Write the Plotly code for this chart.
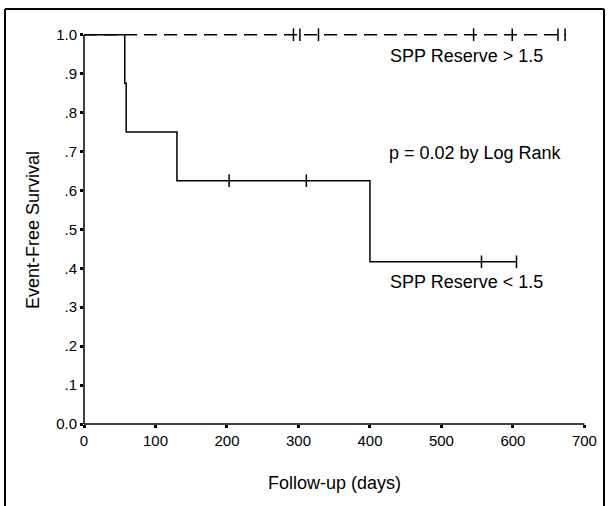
import plotly.graph_objects as go

# Group SPP Reserve < 1.5 (solid)
low_times = [0, 57, 59, 130, 400, 605]
low_surv = [1.0, 0.875, 0.75, 0.625, 0.4167, 0.4167]
low_cens_t = [203, 311, 556, 605]
low_cens_s = [0.625, 0.625, 0.4167, 0.4167]

# Group SPP Reserve > 1.5 (dashed)
high_times = [0, 673]
high_surv = [1.0, 1.0]
high_cens_t = [293, 302, 328, 545, 599, 663, 673]
high_cens_s = [1.0, 1.0, 1.0, 1.0, 1.0, 1.0, 1.0]

x_ticks = [0, 100, 200, 300, 400, 500, 600, 700]
y_ticks = [0.0, 0.1, 0.2, 0.3, 0.4, 0.5, 0.6, 0.7, 0.8, 0.9, 1.0]
y_ticktext = ["0.0", ".1", ".2", ".3", ".4", ".5", ".6", ".7", ".8", ".9", "1.0"]

FONT = "Liberation Sans, Arial, sans-serif"
XMAX = 712
YMAX = 1.03

fig = go.Figure()
fig.add_trace(go.Scatter(x=high_times, y=high_surv, mode="lines", line_shape="hv",
                         line=dict(color="black", width=1.5, dash="13px,7px"),
                         showlegend=False, hoverinfo="skip"))
fig.add_trace(go.Scatter(x=low_times, y=low_surv, mode="lines", line_shape="hv",
                         line=dict(color="black", width=1.5),
                         showlegend=False, hoverinfo="skip"))
fig.add_trace(go.Scatter(x=high_cens_t, y=high_cens_s, mode="markers", cliponaxis=False,
                         marker=dict(symbol="line-ns-open", size=9, color="black",
                                     line=dict(color="black", width=1.5)),
                         showlegend=False, hoverinfo="skip"))
fig.add_trace(go.Scatter(x=low_cens_t, y=low_cens_s, mode="markers", cliponaxis=False,
                         marker=dict(symbol="line-ns-open", size=9, color="black",
                                     line=dict(color="black", width=1.5)),
                         showlegend=False, hoverinfo="skip"))

L, R, T, B = 84, 15, 23, 82
W, H = 608, 506
pw = W - L - R
ph = H - T - B

def px2paper_x(px):
    return (px - L) / pw

def px2paper_y(py):
    return (H - B - py) / ph

fig.update_layout(
    width=W, height=H,
    margin=dict(l=L, r=R, t=T, b=B, pad=0),
    paper_bgcolor="white", plot_bgcolor="white",
    font=dict(family=FONT, color="black"),
    xaxis=dict(range=[0, XMAX], tickvals=x_ticks, ticktext=[str(v) for v in x_ticks],
               showgrid=False, zeroline=False, showline=False,
               ticks="outside", ticklen=3, tickwidth=3, tickcolor="black",
               tickfont=dict(size=15, family=FONT)),
    yaxis=dict(range=[0, YMAX], tickvals=y_ticks, ticktext=y_ticktext,
               showgrid=False, zeroline=False, showline=False,
               ticks="outside", ticklen=3, tickwidth=3, tickcolor="black",
               tickfont=dict(size=15, family=FONT)),
    shapes=[
        # axis lines
        dict(type="line", xref="paper", yref="paper", x0=0, x1=700 / XMAX, y0=0, y1=0,
             line=dict(color="black", width=1.5)),
        dict(type="line", xref="paper", yref="paper", x0=0, x1=0, y0=0, y1=1.0 / YMAX,
             line=dict(color="black", width=1.5)),
        # outer frame
        dict(type="line", xref="paper", yref="paper",
             x0=px2paper_x(5), x1=px2paper_x(5), y0=px2paper_y(9), y1=px2paper_y(520),
             line=dict(color="black", width=2)),
        dict(type="line", xref="paper", yref="paper",
             x0=px2paper_x(604), x1=px2paper_x(604), y0=px2paper_y(9), y1=px2paper_y(520),
             line=dict(color="black", width=2)),
        dict(type="line", xref="paper", yref="paper",
             x0=px2paper_x(5), x1=px2paper_x(604), y0=px2paper_y(9), y1=px2paper_y(9),
             line=dict(color="black", width=2)),
    ],
    annotations=[
        dict(text="SPP Reserve > 1.5", x=425, y=0.945, xref="x", yref="y",
             xanchor="left", yanchor="middle", showarrow=False, font=dict(size=18)),
        dict(text="p = 0.02 by Log Rank", x=424, y=0.696, xref="x", yref="y",
             xanchor="left", yanchor="middle", showarrow=False, font=dict(size=18)),
        dict(text="SPP Reserve < 1.5", x=425, y=0.365, xref="x", yref="y",
             xanchor="left", yanchor="middle", showarrow=False, font=dict(size=18)),
        dict(text="Follow-up (days)", x=px2paper_x(334), y=px2paper_y(483),
             xref="paper", yref="paper", xanchor="center", yanchor="middle",
             showarrow=False, font=dict(size=18)),
        dict(text="Event-Free Survival", x=px2paper_x(33), y=px2paper_y(230),
             xref="paper", yref="paper", xanchor="center", yanchor="middle",
             textangle=-90, showarrow=False, font=dict(size=18)),
    ],
)

fig.write_html("out.html",
               config={"displayModeBar": False, "staticPlot": True},
               post_script="document.body.style.margin='0';document.body.style.overflow='hidden';")
